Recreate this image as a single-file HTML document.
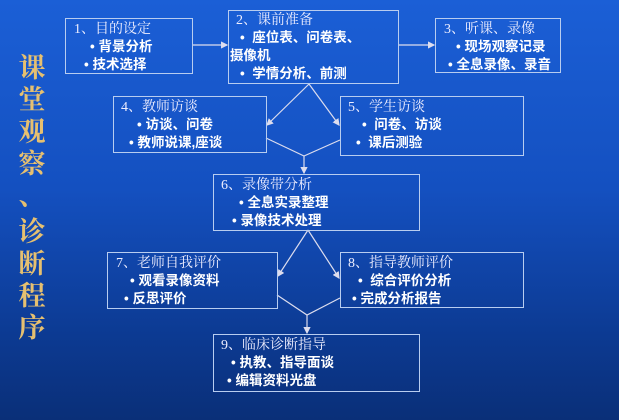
<!DOCTYPE html>
<html><head><meta charset="utf-8"><style>
body{margin:0;width:619px;height:420px;overflow:hidden;background:linear-gradient(180deg,#1b5fd6 0%,#1450c0 45%,#0c3a92 80%,#0a2f78 100%);position:relative;font-family:"Liberation Sans","Noto Sans CJK SC",sans-serif;}
.b{position:absolute;border:1.5px solid #b8cdf0;box-sizing:border-box;color:#fff;}
.t{font-family:"Liberation Serif","Noto Serif CJK SC",serif;font-size:14px;line-height:17px;color:#eef;white-space:nowrap}
.p{font-weight:bold;font-size:13.5px;line-height:18px;white-space:nowrap}
.side{position:absolute;left:14px;width:36px;color:#e6c070;font-family:"Noto Serif CJK SC",serif;font-size:27px;line-height:32px;text-align:center;font-weight:bold}
</style></head><body>
<div class="side" style="top:50px">课<br>堂<br>观<br>察<br>、</div>
<div class="side" style="top:214px">诊<br>断<br>程<br>序</div>
<svg width="619" height="420" style="position:absolute;left:0;top:0">
<defs><marker id="a" markerWidth="6" markerHeight="6" refX="5" refY="3" orient="auto"><path d="M0,0L6,3L0,6z" fill="#dde"/></marker></defs>
<g stroke="#dde" stroke-width="1.2" fill="none">
<line x1="192" y1="45" x2="227" y2="45" marker-end="url(#a)"/>
<line x1="398" y1="45" x2="434" y2="45" marker-end="url(#a)"/>
<line x1="309" y1="84" x2="267" y2="125" marker-end="url(#a)"/>
<line x1="309" y1="84" x2="339" y2="125" marker-end="url(#a)"/>
<polyline points="266,138 304,156 340,140"/>
<line x1="304" y1="156" x2="304" y2="173" marker-end="url(#a)"/>
<line x1="308" y1="230" x2="278" y2="276" marker-end="url(#a)"/>
<line x1="308" y1="230" x2="339" y2="278" marker-end="url(#a)"/>
<polyline points="277,295 307,315 340,298"/>
<line x1="307" y1="315" x2="307" y2="333" marker-end="url(#a)"/>
</g></svg>
<div class="b" style="left:65px;top:18px;width:128px;height:56px;padding:2px 0 0 8px"><div class="t">1、目的设定</div><div class="p" style="padding-left:16px">• 背景分析</div><div class="p" style="padding-left:10px">• 技术选择</div></div>
<div class="b" style="left:228px;top:10px;width:171px;height:74px;padding:1px 0 0 7px"><div class="t">2、课前准备</div><div class="p" style="padding-left:4px">•&nbsp; 座位表、问卷表、</div><div class="p" style="margin-left:-6px">摄像机</div><div class="p" style="padding-left:4px">•&nbsp; 学情分析、前测</div></div>
<div class="b" style="left:435px;top:18px;width:126px;height:55px;padding:2px 0 0 8px"><div class="t">3、听课、录像</div><div class="p" style="padding-left:12px">• 现场观察记录</div><div class="p" style="padding-left:4px">• 全息录像、录音</div></div>
<div class="b" style="left:113px;top:96px;width:154px;height:57px;padding:2px 0 0 7px"><div class="t">4、教师访谈</div><div class="p" style="padding-left:16px">• 访谈、问卷</div><div class="p" style="padding-left:8px">• 教师说课,座谈</div></div>
<div class="b" style="left:340px;top:96px;width:184px;height:60px;padding:2px 0 0 7px"><div class="t">5、学生访谈</div><div class="p" style="padding-left:14px">•&nbsp; 问卷、访谈</div><div class="p" style="padding-left:8px">•&nbsp; 课后测验</div></div>
<div class="b" style="left:213px;top:174px;width:207px;height:57px;padding:2px 0 0 7px"><div class="t">6、录像带分析</div><div class="p" style="padding-left:18px">• 全息实录整理</div><div class="p" style="padding-left:11px">• 录像技术处理</div></div>
<div class="b" style="left:107px;top:252px;width:171px;height:57px;padding:2px 0 0 8px"><div class="t">7、老师自我评价</div><div class="p" style="padding-left:14px">• 观看录像资料</div><div class="p" style="padding-left:8px">• 反思评价</div></div>
<div class="b" style="left:340px;top:252px;width:184px;height:56px;padding:2px 0 0 7px"><div class="t">8、指导教师评价</div><div class="p" style="padding-left:10px">•&nbsp; 综合评价分析</div><div class="p" style="padding-left:4px">• 完成分析报告</div></div>
<div class="b" style="left:213px;top:334px;width:207px;height:58px;padding:2px 0 0 7px"><div class="t">9、临床诊断指导</div><div class="p" style="padding-left:10px">• 执教、指导面谈</div><div class="p" style="padding-left:6px">• 编辑资料光盘</div></div>
</body></html>
